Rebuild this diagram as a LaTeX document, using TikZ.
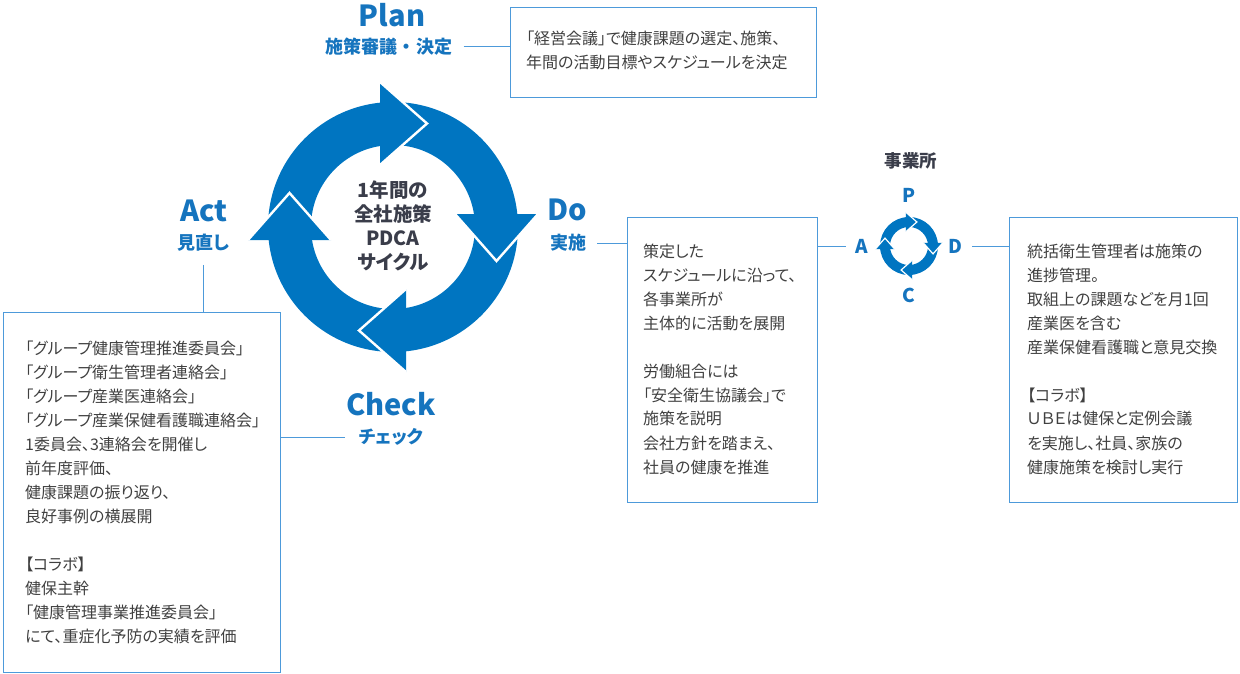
\documentclass[tikz,border=0pt]{standalone}
\usepackage{fontspec}
\setmainfont{Noto Sans CJK JP}[RawFeature=+palt]
\definecolor{cycblue}{HTML}{0075C1}
\definecolor{lblblue}{HTML}{1574BE}
\definecolor{linblue}{HTML}{4D9ADA}
\definecolor{txtgray}{HTML}{404040}
\definecolor{darkslate}{HTML}{3A3D4A}
\newcommand\pdcaring[4]{%
  \begin{scope}[shift={(#1,#2)},scale=#3]
    \fill[cycblue,even odd rule] (0,0) circle[radius=125] (0,0) circle[radius=82];
    \foreach \r in {0,-90,-180,-270}{
      \fill[cycblue,rotate=\r] (-13,62) -- (34,103.5) -- (-13,145) -- cycle;
      \draw[white,line width=#4,line join=miter,rotate=\r] (-13,62) -- (34,103.5) -- (-13,145);
    }
  \end{scope}}
\begin{document}
\begin{tikzpicture}[x=1pt,y=1pt,
  box/.style={draw=linblue,line width=1pt,inner sep=0pt,anchor=north west},
  conn/.style={draw=linblue,line width=1pt},
  bigT/.style={text=lblblue,font=\fontsize{29}{30}\selectfont\bfseries,inner sep=0pt},
  subT/.style={text=lblblue,font=\fontsize{18}{20}\selectfont\bfseries,inner sep=0pt},
  smallT/.style={text=lblblue,font=\fontsize{19}{20}\selectfont\bfseries,inner sep=0pt},
  body/.style={text=txtgray,font=\fontsize{16}{24}\selectfont,inner sep=0pt,anchor=base west,align=left,text width=#1},
  body/.default=300pt]
\useasboundingbox (0,0) rectangle (1240,-674);

% big cycle
\pdcaring{393}{-227}{1}{2.4pt}
\node[text=darkslate,font=\fontsize{19.5}{24}\selectfont\bfseries,inner sep=0pt,anchor=base,align=center,text width=120pt] (center) at (393,-197.5) {1年間の\\全社施策\\PDCA\\サイクル};

% labels
\node[bigT] (planT) at (392,-15) {Plan};
\node[subT] (planS) at (389,-47) {施策審議\hspace{5pt}・\hspace{5pt}決定};
\node[bigT] (actT) at (204,-211) {Act};
\node[subT] (actS) at (203,-243) {見直し};
\node[bigT] (doT) at (567,-210) {Do};
\node[subT] (doS) at (568,-243) {実施};
\node[bigT] (checkT) at (391,-404) {Check};
\node[subT] (checkS) at (391,-437) {チェック};

% boxes
\node[box,minimum width=306pt,minimum height=90pt] (planbox) at (510,-7) {};
\node[box,minimum width=277pt,minimum height=360pt] (leftbox) at (3,-311.5) {};
\node[box,minimum width=190pt,minimum height=285pt] (dobox) at (627,-217) {};
\node[box,minimum width=228pt,minimum height=285pt] (rightbox) at (1008.5,-217) {};

% box texts
\node[body] (plantext) at (526,-45) {「経営会議」で健康課題の選定、施策、\\年間の活動目標やスケジュールを決定};
\node[body] (lefttext) at (25,-354) {「グループ健康管理推進委員会」\\「グループ衛生管理者連絡会」\\「グループ産業医連絡会」\\「グループ産業保健看護職連絡会」\\1委員会、3連絡会を開催し\\前年度評価、\\健康課題の振り返り、\\良好事例の横展開\\[24pt]【コラボ】\\健保主幹\\「健康管理事業推進委員会」\\にて、重症化予防の実績を評価};
\node[body] (dotext) at (643,-257) {策定した\\スケジュールに沿って、\\各事業所が\\主体的に活動を展開\\[24pt]労働組合には\\「安全衛生協議会」で\\施策を説明\\会社方針を踏まえ、\\社員の健康を推進};
\node[body] (righttext) at (1027,-257) {統括衛生管理者は施策の\\進捗管理。\\取組上の課題などを月1回\\産業医を含む\\産業保健看護職と意見交換\\[24pt]【コラボ】\\ＵＢＥは健保と定例会議\\を実施し、社員、家族の\\健康施策を検討し実行};

% small cycle
\node[text=darkslate,font=\fontsize{17.5}{20}\selectfont\bfseries,inner sep=0pt] (jigyo) at (911,-161) {事業所};
\pdcaring{909}{-246}{0.232}{1.2pt}
\node[smallT] (sP) at (909,-195) {P};
\node[smallT] (sD) at (955,-246) {D};
\node[smallT] (sC) at (909,-295) {C};
\node[smallT] (sA) at (862,-246) {A};

% connectors
\draw[conn] ([xshift=11pt]planS.east) -- (planS -| planbox.west);
\draw[conn] ([xshift=11pt]doS.east) -- (doS -| dobox.west);
\draw[conn] ([yshift=-13pt]actS.south) -- (actS |- leftbox.north);
\draw[conn] ([xshift=-14pt]checkS.west) -- (checkS -| leftbox.east);
\draw[conn] (sA -| dobox.east) -- ([xshift=-10pt]sA.west);
\draw[conn] ([xshift=10pt]sD.east) -- (sD -| rightbox.west);
\end{tikzpicture}
\end{document}
